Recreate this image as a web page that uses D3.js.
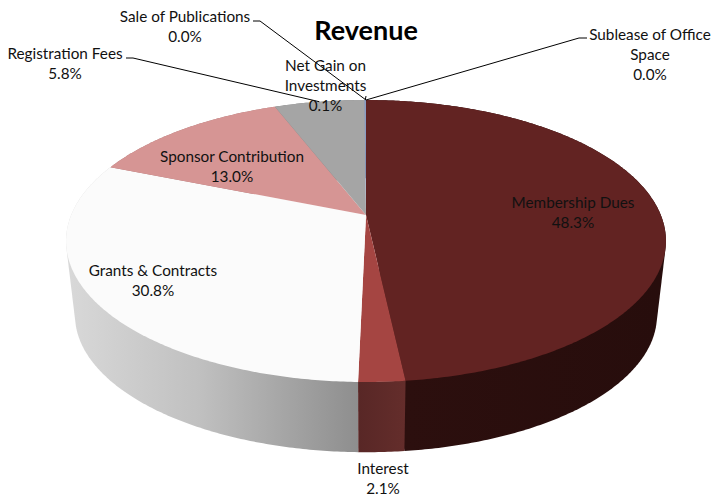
<!DOCTYPE html>
<html>
<head>
<meta charset="utf-8">
<script src="https://cdn.jsdelivr.net/npm/d3@7"></script>
<style>
  html, body { margin: 0; padding: 0; background: #fff; }
  text { font-family: Lato, "Open Sans", sans-serif; fill: #111; }
</style>
</head>
<body>
<div id="chart"></div>
<script>
// values, clockwise from 12 o'clock
var categories = ["Membership Dues", "Interest", "Grants & Contracts", "Sponsor Contribution",
                  "Registration Fees", "Net Gain on Investments", "Sale of Publications", "Sublease of Office Space"];
var percents = [48.3, 2.1, 30.8, 13.0, 5.8, 0.1, 0.0, 0.0];

var topColors = ["#622322", "#a54542", "#fbfbfb", "#d69594", "#a5a5a5", "#8a9cc4", "#a5a5a5", "#a5a5a5"];
var sideColors = ["url(#sideDark)", "url(#sideRed)", "url(#sideGrey)", "#a87675", "#7f7f7f", "#6a7a9a", "#7f7f7f", "#7f7f7f"];

// label text broken the way it wraps in the picture, with label centres
var labelLines = [["Membership Dues"], ["Interest"], ["Grants & Contracts"], ["Sponsor Contribution"],
                  ["Registration Fees"], ["Net Gain on", "Investments"], ["Sale of Publications"], ["Sublease of Office", "Space"]];
var labelX = [573, 383, 153, 232, 65, 325.5, 185, 650];
var labelY = [203, 469, 271, 157, 53.5, 66, 16.5, 34.5];
// leader elbows: [start of line, elbow], null when the label sits on its slice
var leaderA = [null, null, null, null, [126, 58], [366, 96], [253, 21], [587, 38]];
var leaderB = [null, null, null, null, [133, 58], [366, 96], [260, 21], [579, 38]];

var width = 712, height = 498;
var lineGap = 20;

var svg = d3.select("#chart").append("svg")
    .attr("width", width)
    .attr("height", height)
    .style("display", "block");

// the disc is tilted, so the slices meet above the middle of the ellipse
var tilt = 0.1844;
var topDisc = {cx: 366, cy: 215, rx: 294.8, ry: 136.2};
var bottomDisc = {cx: 366, cy: 290, rx: 286, ry: 132.3};

function project(disc, angle) {
    var u = Math.sin(angle), v = Math.cos(angle);
    var w = 1 + tilt * v;
    return [disc.cx + disc.rx * u / w, disc.cy - disc.ry * v / w];
}

function arcPoints(disc, a0, a1) {
    var n = Math.max(2, Math.ceil((a1 - a0) / 0.01));
    return d3.range(n + 1).map(function(i) { return project(disc, a0 + (a1 - a0) * i / n); });
}

var defs = svg.append("defs");

function addGradient(id, x1, x2, stops) {
    var g = defs.append("linearGradient")
        .attr("id", id)
        .attr("gradientUnits", "userSpaceOnUse")
        .attr("x1", x1).attr("x2", x2).attr("y1", 0).attr("y2", 0);
    stops.forEach(function(s) {
        g.append("stop").attr("offset", s[0]).attr("stop-color", s[1]);
    });
}
addGradient("sideGrey", 70, 358, [[0, "#d8d8d8"], [0.45, "#c0c0c0"], [1, "#8e8e8e"]]);
addGradient("sideRed", 358, 405, [[0, "#582726"], [1, "#642d2b"]]);
addGradient("sideDark", 405, 660, [[0, "#2c0f0e"], [1, "#270d0c"]]);

var slices = d3.pie().sort(null).value(function(d) { return d; })(percents);
slices.forEach(function(d, i) { d.index = i; });

var line = d3.line();

// side walls, back to front
var sideOrder = slices.slice().sort(function(a, b) {
    var ma = Math.abs((a.startAngle + a.endAngle) / 2 - Math.PI);
    var mb = Math.abs((b.startAngle + b.endAngle) / 2 - Math.PI);
    return mb - ma;
});
svg.append("g").selectAll("path")
    .data(sideOrder.filter(function(d) { return d.value > 0; }))
    .enter().append("path")
    .attr("fill", function(d) { return sideColors[d.index]; })
    .attr("d", function(d) {
        var pts = arcPoints(topDisc, d.startAngle, d.endAngle)
            .concat(arcPoints(bottomDisc, d.startAngle, d.endAngle));
        return line(d3.polygonHull(pts)) + "Z";
    });

// top face
svg.append("g").selectAll("path")
    .data(slices.filter(function(d) { return d.value > 0; }))
    .enter().append("path")
    .attr("fill", function(d) { return topColors[d.index]; })
    .attr("d", function(d) {
        var pts = [[topDisc.cx, topDisc.cy]].concat(arcPoints(topDisc, d.startAngle, d.endAngle));
        return line(pts) + "Z";
    });

// leader lines run from the label to the slice's rim
slices.forEach(function(d, i) {
    if (!leaderA[i]) return;
    svg.append("path")
        .attr("fill", "none")
        .attr("stroke", "#000")
        .attr("stroke-width", 1)
        .attr("d", line([leaderA[i], leaderB[i], project(topDisc, (d.startAngle + d.endAngle) / 2)]));
});

// labels
var fmt = d3.format(".1%");
slices.forEach(function(d, i) {
    var t = svg.append("text")
        .attr("text-anchor", "middle")
        .attr("font-size", 15.3);
    labelLines[i].concat([fmt(percents[i] / 100)]).forEach(function(s, j) {
        t.append("tspan")
            .attr("x", labelX[i])
            .attr("y", labelY[i] + j * lineGap + 5)
            .text(s);
    });
});

svg.append("text")
    .attr("x", 366)
    .attr("y", 40)
    .attr("text-anchor", "middle")
    .attr("font-size", 27)
    .attr("font-weight", 700)
    .style("fill", "#000")
    .text("Revenue");
</script>
</body>
</html>
